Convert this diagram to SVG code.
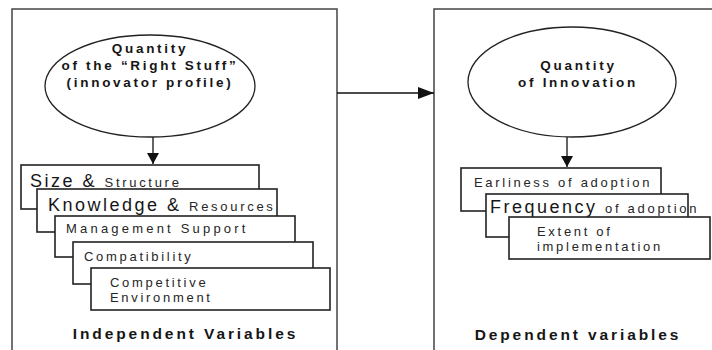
<svg xmlns="http://www.w3.org/2000/svg" width="712" height="350" viewBox="0 0 712 350">
  <defs>
    <marker id="arrow" viewBox="0 0 11 12" refX="11" refY="6" markerWidth="11" markerHeight="12" markerUnits="userSpaceOnUse" orient="auto">
      <path d="M0,0 L11,6 L0,12 Z" fill="#111"/>
    </marker>
    <marker id="arrowBig" viewBox="0 0 16 12" refX="16" refY="6" markerWidth="16" markerHeight="12" markerUnits="userSpaceOnUse" orient="auto">
      <path d="M0,0 L16,6 L0,12 Z" fill="#111"/>
    </marker>
  </defs>
  <style>
    .frame { fill: none; stroke: #444; stroke-width: 1.5; }
    .ell { fill: #fff; stroke: #222; stroke-width: 1.3; }
    .box { fill: #fff; stroke: #222; stroke-width: 1.6; }
    .line { fill: none; stroke: #111; stroke-width: 1.3; }
    text { font-family: "Liberation Sans", Arial, sans-serif; fill: #161616; }
    .head { font-size: 13.5px; font-weight: bold; letter-spacing: 2.7px; text-anchor: middle; }
    .lbl { font-size: 13px; letter-spacing: 2.7px; fill: #262626; }
    .wide { letter-spacing: 3.2px; }
    .big { font-size: 18px; letter-spacing: 2.5px; }
    .foot { font-size: 15.5px; font-weight: bold; letter-spacing: 2.9px; text-anchor: middle; }
  </style>
  <rect width="712" height="350" fill="#fff"/>

  <!-- outer frames (open at the bottom / right) -->
  <g id="frame-independent">
    <path class="frame" d="M12,350 L12,9 L337,9 L337,350"/>
    <text class="foot" x="185.5" y="339">Independent Variables</text>
  </g>
  <g id="frame-dependent">
    <path class="frame" d="M434,350 L434,9 L712,9"/>
    <text class="foot" x="578" y="340">Dependent variables</text>
  </g>

  <!-- connectors -->
  <g id="connectors">
    <line class="line" x1="337" y1="93" x2="434" y2="93" marker-end="url(#arrowBig)"/>
    <line class="line" x1="153" y1="137" x2="153" y2="164" marker-end="url(#arrow)"/>
    <line class="line" x1="567" y1="137" x2="567" y2="167" marker-end="url(#arrow)"/>
  </g>

  <!-- left: innovator profile -->
  <g id="node-right-stuff">
    <ellipse class="ell" cx="150" cy="86" rx="105" ry="51"/>
    <text class="head" x="150" y="53">Quantity</text>
    <text class="head" x="150" y="70">of the “Right Stuff”</text>
    <text class="head" x="150" y="87">(innovator profile)</text>
  </g>

  <g id="node-size">
    <rect class="box" x="21" y="165" width="238" height="44"/>
    <text x="30" y="187"><tspan class="big">Size &amp; </tspan><tspan class="lbl">Structure</tspan></text>
  </g>
  <g id="node-knowledge">
    <rect class="box" x="37" y="189" width="240" height="43"/>
    <text x="48" y="211"><tspan class="big">Knowledge &amp; </tspan><tspan class="lbl">Resources</tspan></text>
  </g>
  <g id="node-management">
    <rect class="box" x="55" y="216" width="240" height="41"/>
    <text class="lbl wide" x="66" y="233">Management Support</text>
  </g>
  <g id="node-compatibility">
    <rect class="box" x="73" y="242" width="240" height="42"/>
    <text class="lbl" x="84" y="261">Compatibility</text>
  </g>
  <g id="node-competitive">
    <rect class="box" x="91" y="268" width="239" height="42"/>
    <text class="lbl" x="110" y="287">Competitive</text>
    <text class="lbl" x="110" y="302">Environment</text>
  </g>

  <!-- right: innovation outcomes -->
  <g id="node-innovation">
    <ellipse class="ell" cx="572" cy="82" rx="104" ry="55"/>
    <text class="head" x="578.5" y="70">Quantity</text>
    <text class="head" x="578" y="87">of Innovation</text>
  </g>

  <g id="node-earliness">
    <rect class="box" x="461" y="168" width="200" height="43"/>
    <text class="lbl" x="474" y="187">Earliness of adoption</text>
  </g>
  <g id="node-frequency">
    <rect class="box" x="486" y="194" width="202" height="43"/>
    <text x="490" y="213"><tspan class="big">Frequency </tspan><tspan class="lbl">of adoption</tspan></text>
  </g>
  <g id="node-extent">
    <rect class="box" x="509" y="217" width="201" height="42"/>
    <text class="lbl" x="537" y="236">Extent of</text>
    <text class="lbl" x="537" y="251">implementation</text>
  </g>
</svg>
